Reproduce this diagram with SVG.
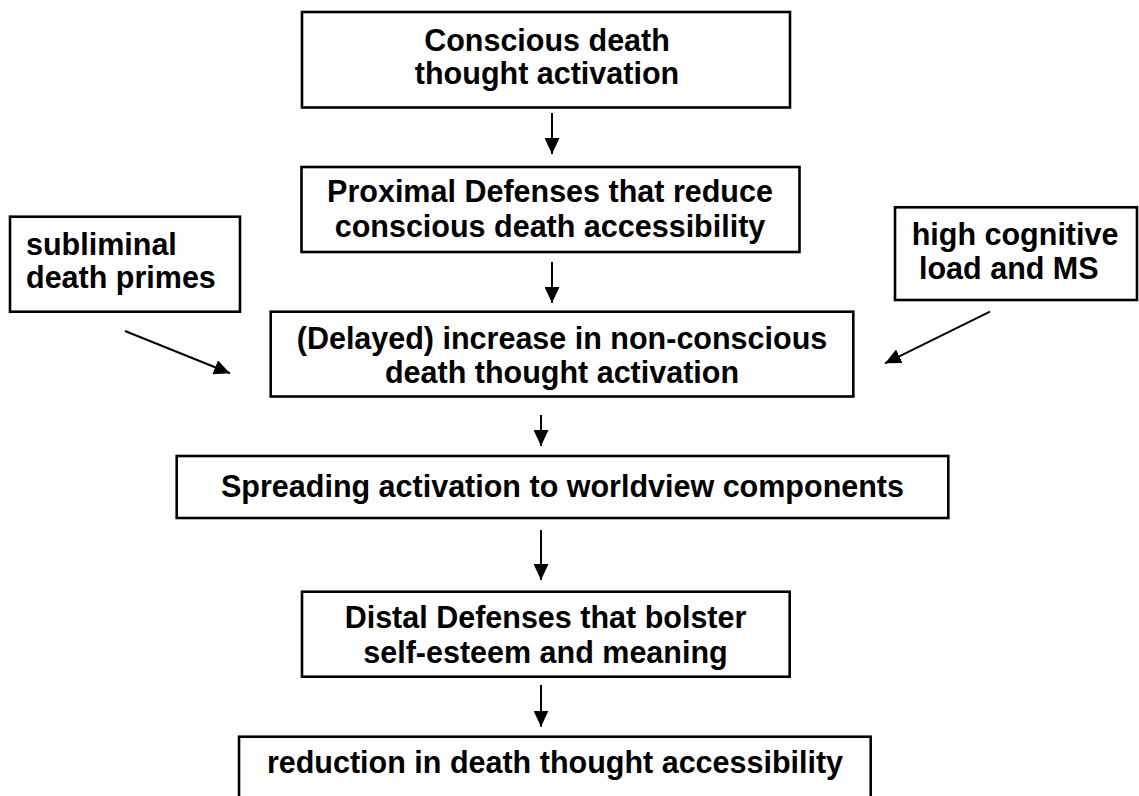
<svg xmlns="http://www.w3.org/2000/svg" width="1139" height="796" viewBox="0 0 1139 796">
<style>
.box{fill:#fff;stroke:#000;stroke-width:2.6}
.t{font-family:"Liberation Sans",Arial,sans-serif;font-weight:bold;font-size:30.5px;fill:#000}
.c{text-anchor:middle}
.arr{stroke:#000;stroke-width:2;fill:none;marker-end:url(#ah)}
</style>
<defs>
<marker id="ah" viewBox="0 0 16 15" refX="16" refY="7.5" markerWidth="16" markerHeight="15" markerUnits="userSpaceOnUse" orient="auto">
<path d="M0,0 L16,7.5 L0,15 z" fill="#000"/>
</marker>
</defs>
<rect width="1139" height="796" fill="#fff"/>
<g id="n1">
<rect class="box" x="302" y="12" width="488" height="95.5"/>
<text class="t c" x="547" y="50.5">Conscious death</text>
<text class="t c" x="547" y="84">thought activation</text>
</g>
<g id="n2">
<rect class="box" x="301.5" y="167" width="498" height="85"/>
<text class="t c" x="550" y="202">Proximal Defenses that reduce</text>
<text class="t c" x="550" y="237">conscious death accessibility</text>
</g>
<g id="n3">
<rect class="box" x="10" y="216.7" width="230" height="95"/>
<text class="t" x="26" y="255">subliminal</text>
<text class="t" x="26" y="288">death primes</text>
</g>
<g id="n4">
<rect class="box" x="895" y="207.3" width="242" height="92.7"/>
<text class="t" x="911.7" y="245">high cognitive</text>
<text class="t" x="919" y="279">load and MS</text>
</g>
<g id="n5">
<rect class="box" x="270.7" y="311.7" width="582.6" height="84.8"/>
<text class="t c" x="562" y="348.5">(Delayed) increase in non-conscious</text>
<text class="t c" x="562" y="383">death thought activation</text>
</g>
<g id="n6">
<rect class="box" x="176.7" y="456" width="771.6" height="62"/>
<text class="t c" x="562.5" y="497">Spreading activation to worldview components</text>
</g>
<g id="n7">
<rect class="box" x="302" y="591.7" width="487.7" height="85"/>
<text class="t c" x="545.5" y="627.5">Distal Defenses that bolster</text>
<text class="t c" x="545.5" y="662.5">self-esteem and meaning</text>
</g>
<g id="n8">
<rect class="box" x="239" y="736.7" width="631.7" height="70"/>
<text class="t c" x="555" y="773">reduction in death thought accessibility</text>
</g>
<g id="connectors">
<line class="arr" x1="552" y1="113" x2="552" y2="154"/>
<line class="arr" x1="552" y1="262" x2="552" y2="303"/>
<line class="arr" x1="541" y1="415" x2="541" y2="446"/>
<line class="arr" x1="541" y1="530" x2="541" y2="580"/>
<line class="arr" x1="541" y1="685" x2="541" y2="726.7"/>
<line class="arr" x1="125" y1="331" x2="230" y2="373.3"/>
<line class="arr" x1="990" y1="311.7" x2="885" y2="363.3"/>
</g>
</svg>
